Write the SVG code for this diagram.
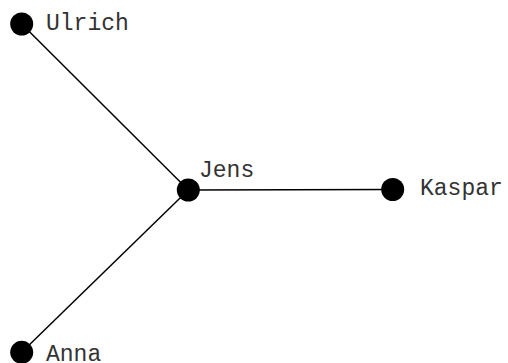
<svg xmlns="http://www.w3.org/2000/svg" width="508" height="363" viewBox="0 0 508 363">
<style>
.node circle{fill:#000}
.node text{font-family:"Liberation Mono","Courier New",monospace;font-size:23px;fill:#333}
.edges line{stroke:#000;stroke-width:1.5}
</style>
<rect width="508" height="363" fill="#fff"/>
<g id="edges" class="edges">
<line x1="21.7" y1="24" x2="188.3" y2="190"/>
<line x1="188.3" y1="190" x2="392.7" y2="189.5"/>
<line x1="188.3" y1="190" x2="21.7" y2="352.3"/>
</g>
<g id="ulrich" class="node"><circle cx="21.7" cy="24" r="11.5"/><text x="46" y="29.5">Ulrich</text></g>
<g id="jens" class="node"><circle cx="188.3" cy="190" r="11.5"/><text x="199" y="177">Jens</text></g>
<g id="kaspar" class="node"><circle cx="392.7" cy="189.5" r="11.5"/><text x="420" y="194.5">Kaspar</text></g>
<g id="anna" class="node"><circle cx="21.7" cy="352.3" r="11.5"/><text x="46" y="361">Anna</text></g>
</svg>
